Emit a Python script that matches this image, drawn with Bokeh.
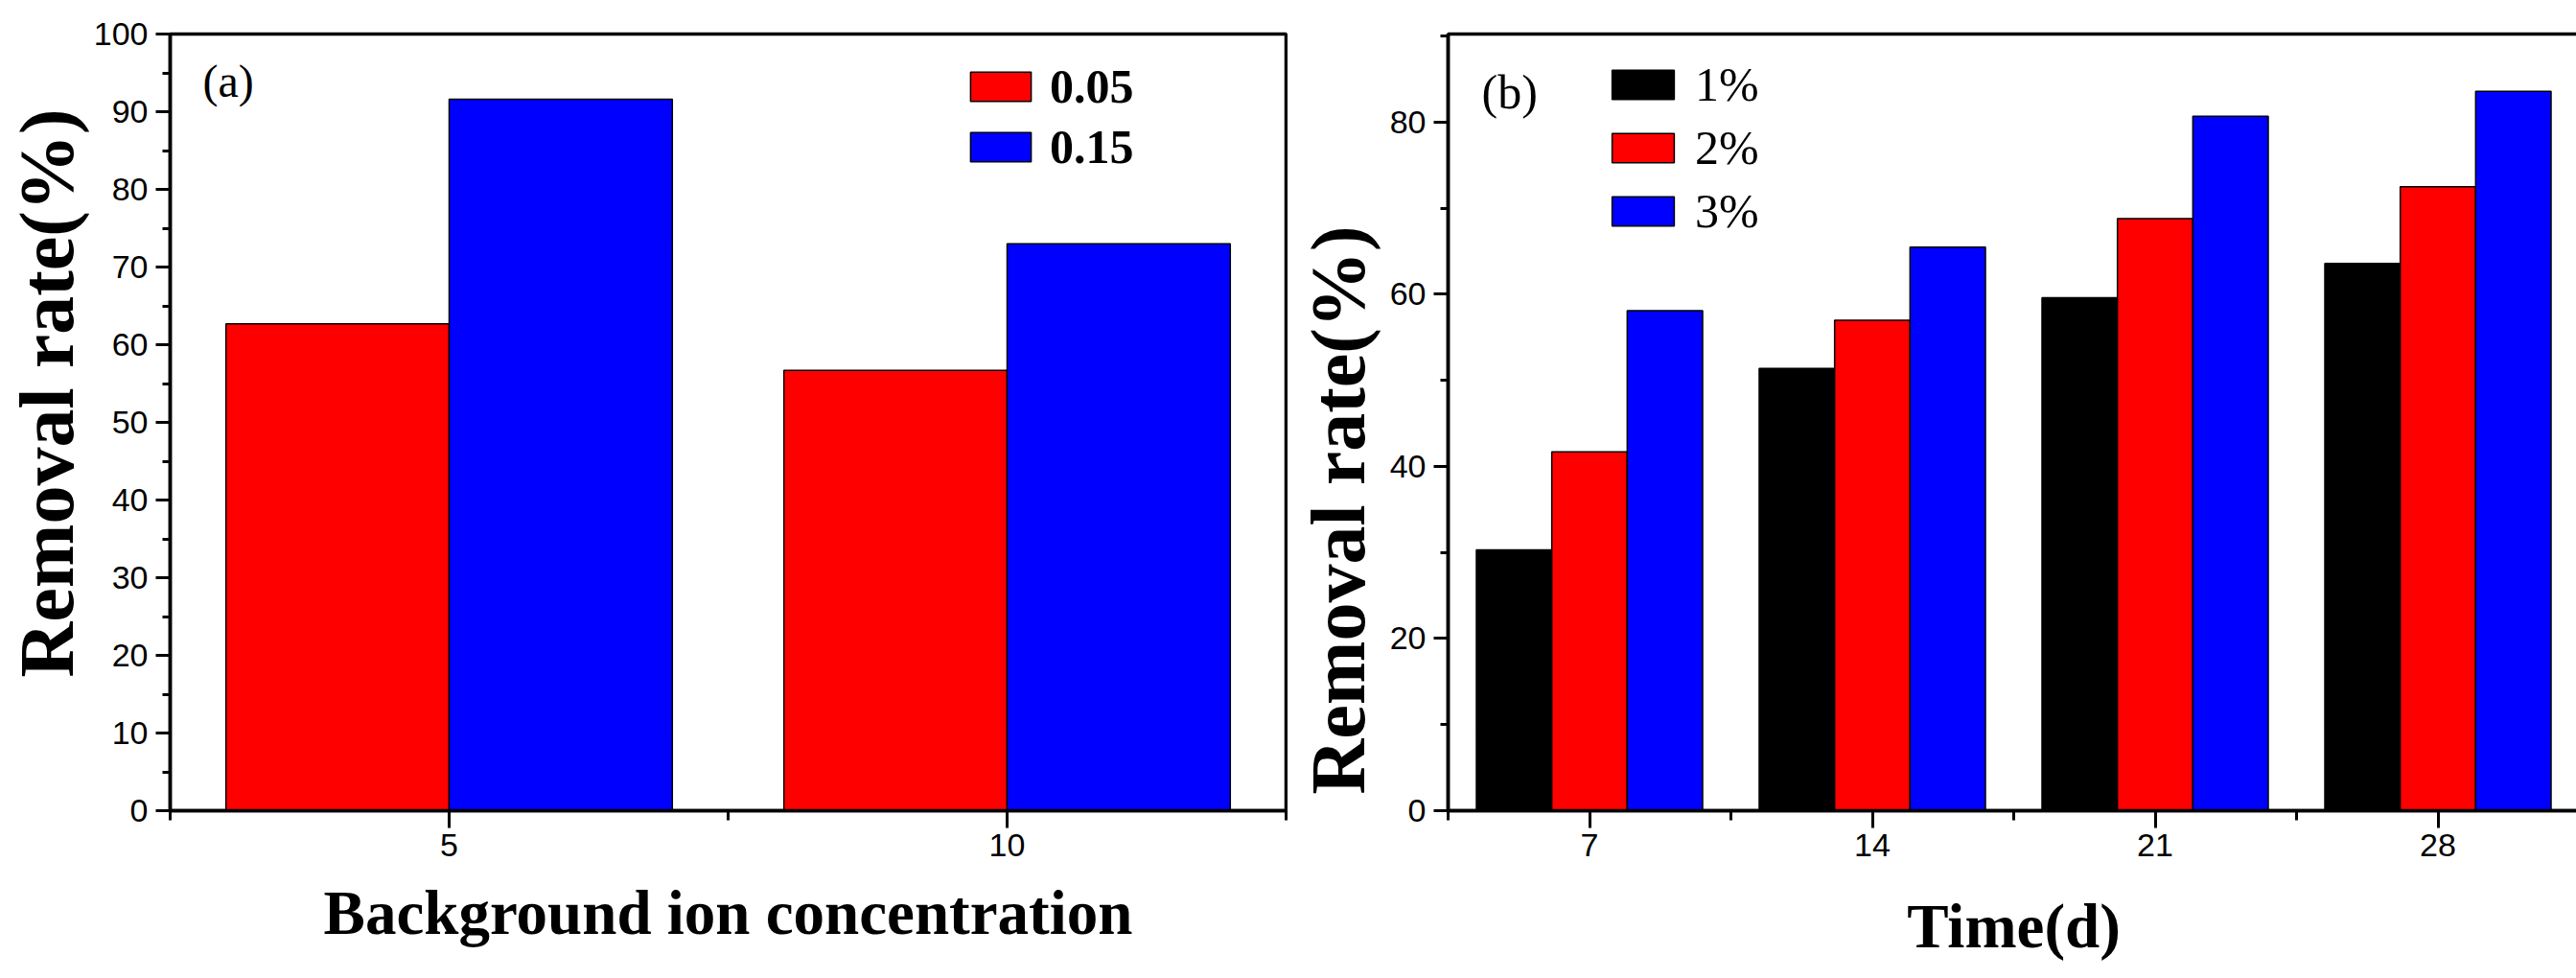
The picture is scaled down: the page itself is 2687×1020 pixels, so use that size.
from bokeh.plotting import figure
from bokeh.layouts import row
from bokeh.models import Range1d, FixedTicker, Legend, LegendItem, Label, Title
from bokeh.embed import file_html
from bokeh.resources import INLINE

# ---------------- data: panel (a) ----------------
conc = [5, 10]                       # background ion concentration
series_a = ["0.05", "0.15"]
removal_005 = [62.7, 56.7]
removal_015 = [91.6, 73.0]
colors_a = ["#ff0000", "#0000ff"]
yticks_a = [0, 10, 20, 30, 40, 50, 60, 70, 80, 90, 100]
yminor_a = [5, 15, 25, 35, 45, 55, 65, 75, 85, 95]

# ---------------- data: panel (b) ----------------
days = [7, 14, 21, 28]
series_b = ["1%", "2%", "3%"]
removal_1 = [30.3, 51.4, 59.6, 63.6]
removal_2 = [41.7, 57.0, 68.8, 72.5]
removal_3 = [58.1, 65.5, 80.7, 83.6]
colors_b = ["#000000", "#ff0000", "#0000ff"]
yticks_b = [0, 20, 40, 60, 80]
yminor_b = [10, 30, 50, 70, 90]

SERIF = "Liberation Serif"
SANS = "Liberation Sans"
FRAME_H = 810
TOP = 35
BOTTOM = 175


def style(p):
    p.outline_line_color = "black"
    p.outline_line_width = 3.5
    p.outline_line_alpha = 1.0
    p.background_fill_color = "white"
    p.border_fill_color = "white"
    p.xgrid.visible = False
    p.ygrid.visible = False
    for ax in (p.xaxis[0], p.yaxis[0]):
        ax.axis_line_width = 3.5
        ax.axis_line_color = "black"
        ax.major_tick_in = 0
        ax.minor_tick_in = 0
        ax.major_tick_line_width = 3
        ax.minor_tick_line_width = 3
        ax.major_label_text_font = SANS
        ax.major_label_text_font_size = "34px"
        ax.major_label_text_color = "black"
    p.xaxis.major_tick_out = 18
    p.xaxis.minor_tick_out = 10
    p.yaxis.major_tick_out = 15
    p.yaxis.minor_tick_out = 8
    p.xaxis.major_label_standoff = 6
    p.yaxis.major_label_standoff = 8
    p.xaxis.axis_label_text_font = SERIF
    p.xaxis.axis_label_text_font_style = "bold"
    p.xaxis.axis_label_text_font_size = "65px"
    p.xaxis.axis_label_text_color = "black"
    p.xaxis.axis_label_standoff = 20


def grouped_bars(p, cats, series_vals, colors, names):
    spacing = cats[1] - cats[0]
    n = len(series_vals)
    bw = 0.8 * spacing / n
    items = []
    for i, (vals, col, name) in enumerate(zip(series_vals, colors, names)):
        off = (i - (n - 1) / 2) * bw
        r = p.vbar(x=[c + off for c in cats], top=vals, width=bw, bottom=0,
                   fill_color=col, line_color="black", line_width=1.5)
        items.append(LegendItem(label=name, renderers=[r]))
    return items, spacing


def ylabel(p, offset, standoff):
    p.add_layout(Title(text="Removal rate(%)", align="left", offset=offset, standoff=standoff,
                       text_font=SERIF, text_font_style="bold", text_font_size="80px",
                       text_color="black"), "left")


# ---------------- panel (a) ----------------
pa = figure(width=1339, height=TOP + FRAME_H + BOTTOM, frame_width=1164, frame_height=FRAME_H,
            min_border_left=173, min_border_right=2, min_border_top=TOP, min_border_bottom=BOTTOM,
            output_backend="svg", toolbar_location=None, tools="")
items_a, sp_a = grouped_bars(pa, conc, [removal_005, removal_015], colors_a, series_a)
pa.x_range = Range1d(conc[0] - sp_a / 2, conc[-1] + sp_a / 2)
pa.y_range = Range1d(yticks_a[0], yticks_a[-1])
style(pa)
pa.xaxis.ticker = FixedTicker(ticks=conc,
                              minor_ticks=[conc[0] - sp_a / 2] + [(a + b) / 2 for a, b in zip(conc[:-1], conc[1:])] + [conc[-1] + sp_a / 2])
pa.yaxis.ticker = FixedTicker(ticks=yticks_a, minor_ticks=yminor_a)
pa.xaxis.axis_label = "Background ion concentration"
ylabel(pa, 139, 4)

leg_a = Legend(items=items_a, location=(827, 663), glyph_width=79, glyph_height=38,
               label_text_font=SERIF, label_text_font_style="bold", label_text_font_size="50px",
               label_text_color="black",
               label_standoff=12, spacing=5, padding=0, margin=0,
               border_line_color=None, background_fill_alpha=0)
pa.add_layout(leg_a)
pa.add_layout(Label(x=34, y=FRAME_H - 22, x_units="screen", y_units="screen", text="(a)",
                    text_font=SERIF, text_font_size="48px", text_baseline="top", text_color="black"))

# ---------------- panel (b) ----------------
pb = figure(width=1348, height=TOP + FRAME_H + BOTTOM, frame_width=1180, frame_height=FRAME_H,
            min_border_left=163, min_border_right=5, min_border_top=TOP, min_border_bottom=BOTTOM,
            output_backend="svg", toolbar_location=None, tools="")
items_b, sp_b = grouped_bars(pb, days, [removal_1, removal_2, removal_3], colors_b, series_b)
pb.x_range = Range1d(days[0] - sp_b / 2, days[-1] + sp_b / 2)
pb.y_range = Range1d(0, 90.25)
style(pb)
pb.xaxis.ticker = FixedTicker(ticks=days,
                              minor_ticks=[days[0] - sp_b / 2] + [(a + b) / 2 for a, b in zip(days[:-1], days[1:])] + [days[-1] + sp_b / 2])
pb.yaxis.ticker = FixedTicker(ticks=yticks_b, minor_ticks=yminor_b)
pb.xaxis.axis_label = "Time(d)"
pb.xaxis.axis_label_standoff = 34
ylabel(pb, 17, 13)

leg_b = Legend(items=items_b, location=(163, 596), glyph_width=81, glyph_height=38,
               label_text_font=SERIF, label_text_font_size="50px", label_text_color="black",
               label_standoff=14, spacing=8, padding=0, margin=0,
               border_line_color=None, background_fill_alpha=0)
pb.add_layout(leg_b)
pb.add_layout(Label(x=35, y=FRAME_H - 32, x_units="screen", y_units="screen", text="(b)",
                    text_font=SERIF, text_font_size="50px", text_baseline="top", text_color="black"))

layout = row(pa, pb)
open("out.html", "w").write(file_html(layout, INLINE))
